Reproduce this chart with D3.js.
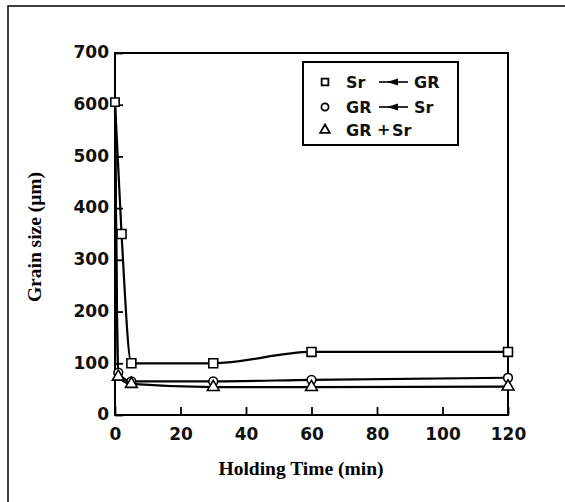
<!DOCTYPE html>
<html>
<head>
<meta charset="utf-8">
<script src="https://cdn.jsdelivr.net/npm/d3@7"></script>
<style>
  html, body { margin: 0; padding: 0; background: #fff; }
  svg { display: block; }
  .tick text { font-family: "DejaVu Sans", sans-serif; font-weight: bold; font-size: 17px; fill: #111; }
  .title { font-family: "Liberation Serif", "Times New Roman", serif; font-weight: bold; font-size: 19.5px; fill: #000; }
  .leg { font-family: "DejaVu Sans", sans-serif; font-weight: bold; font-size: 16px; fill: #111; }
</style>
</head>
<body>
<script>
// Grain size vs. holding time for three addition sequences
const holdTimes = [0, 2, 5, 30, 60, 120];
const timesOther = [0, 1, 5, 30, 60, 120];
const srThenGr = [605, 350, 100, 100, 122, 122];   // squares
const grThenSr = [605, 82, 65, 65, 68, 72];        // circles
const grPlusSr = [605, 74, 60, 54, 54, 55];        // triangles
const xTicks = [0, 20, 40, 60, 80, 100, 120];
const yTicks = [0, 100, 200, 300, 400, 500, 600, 700];
const legendLabels = [["Sr", "GR", "arrow"], ["GR", "Sr", "arrow"], ["GR", "Sr", "plus"]];

const W = 565, H = 502;
const svg = d3.select("body").append("svg").attr("width", W).attr("height", H);

// outer frame (left and top edges)
svg.append("path").attr("d", "M8,502V6H565").attr("fill", "none").attr("stroke", "#000").attr("stroke-width", 1.5);

const x = d3.scaleLinear().domain([0, 120]).range([115, 508]);
const y = d3.scaleLinear().domain([0, 700]).range([415, 53]);

// plot box
svg.append("rect").attr("x", x(0)).attr("y", y(700))
  .attr("width", x(120) - x(0)).attr("height", y(0) - y(700))
  .attr("fill", "none").attr("stroke", "#000").attr("stroke-width", 2);

const gx = svg.append("g").attr("transform", `translate(0,${y(0)})`)
  .call(d3.axisBottom(x).tickValues(xTicks).tickSize(-8).tickPadding(13).tickFormat(d3.format("d")));
const gy = svg.append("g").attr("transform", `translate(${x(0)},0)`)
  .call(d3.axisLeft(y).tickValues(yTicks).tickSize(-8).tickPadding(6).tickFormat(d3.format("d")));
[gx, gy].forEach(g => {
  g.select(".domain").remove();
  g.selectAll(".tick line").attr("stroke", "#000").attr("stroke-width", 1.8);
});
gy.selectAll(".tick text").attr("dy", "0.28em");

// axis titles
svg.append("text").attr("class", "title").attr("text-anchor", "middle")
  .attr("transform", "translate(41,237) rotate(-90)").text("Grain size (\u03bcm)");
svg.append("text").attr("class", "title").attr("text-anchor", "middle")
  .attr("x", 301).attr("y", 475).text("Holding Time (min)");

// series
const line = d3.line().x(d => x(d[0])).y(d => y(d[1])).curve(d3.curveMonotoneX);
const series = [
  { t: holdTimes, v: srThenGr, sym: d3.symbolSquare, size: 80 },
  { t: timesOther, v: grThenSr, sym: d3.symbolCircle, size: 60 },
  { t: timesOther, v: grPlusSr, sym: d3.symbolTriangle, size: 60 }
];
series.forEach(s => {
  const pts = s.t.map((t, i) => [t, s.v[i]]);
  svg.append("path").datum(pts).attr("d", line)
    .attr("fill", "none").attr("stroke", "#000").attr("stroke-width", 2.2);
});
series.forEach(s => {
  const pts = s.t.map((t, i) => [t, s.v[i]]);
  svg.append("g").selectAll("path").data(pts.slice(1)).join("path")
    .attr("transform", d => `translate(${x(d[0])},${y(d[1])})`)
    .attr("d", d3.symbol(s.sym, s.size))
    .attr("fill", "#fff").attr("stroke", "#000").attr("stroke-width", 1.6);
});
// shared starting point
svg.append("path").attr("transform", `translate(${x(holdTimes[0])},${y(srThenGr[0])})`)
  .attr("d", d3.symbol(d3.symbolSquare, 70)).attr("fill", "#fff").attr("stroke", "#000").attr("stroke-width", 1.6);

// legend
const leg = svg.append("g");
leg.append("rect").attr("x", 303).attr("y", 62).attr("width", 155).attr("height", 83)
  .attr("fill", "#fff").attr("stroke", "#000").attr("stroke-width", 2);
const rowsY = [82, 107, 130];
const legSyms = [d3.symbolSquare, d3.symbolCircle, d3.symbolTriangle];
legendLabels.forEach((lab, i) => {
  const cy = rowsY[i];
  leg.append("path").attr("transform", `translate(325,${cy})`)
    .attr("d", d3.symbol(legSyms[i], i === 0 ? 45 : 40))
    .attr("fill", "#fff").attr("stroke", "#000").attr("stroke-width", 1.8);
  leg.append("text").attr("class", "leg").attr("x", 346).attr("y", cy + 6).text(lab[0]);
  if (lab[2] === "arrow") {
    leg.append("line").attr("x1", 379).attr("x2", 408).attr("y1", cy).attr("y2", cy)
      .attr("stroke", "#000").attr("stroke-width", 1.6);
    leg.append("path").attr("d", `M387,${cy}L398,${cy - 3.5}L398,${cy + 3.5}Z`).attr("fill", "#000");
    leg.append("text").attr("class", "leg").attr("x", 414).attr("y", cy + 6).text(lab[1]);
  } else {
    leg.append("text").attr("class", "leg").attr("x", 377).attr("y", cy + 5).attr("font-size", 13).text("+");
    leg.append("text").attr("class", "leg").attr("x", 392).attr("y", cy + 6).text(lab[1]);
  }
});
</script>
</body>
</html>
